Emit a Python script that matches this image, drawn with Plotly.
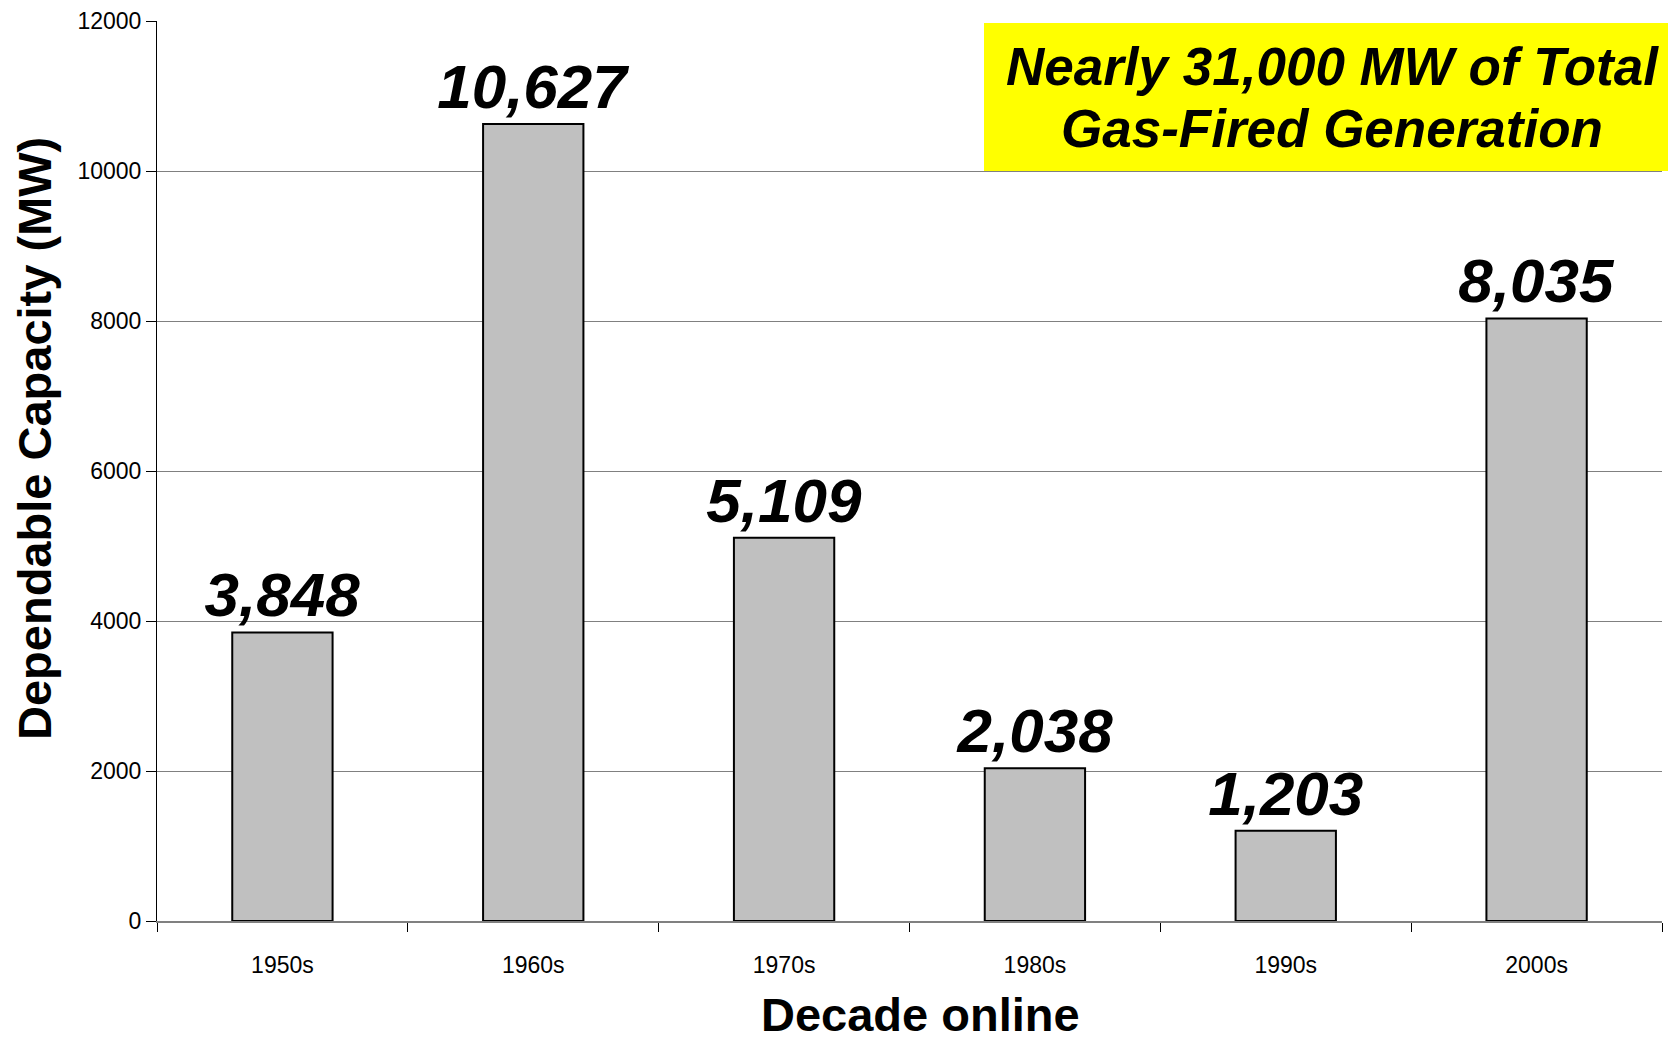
import plotly.graph_objects as go

decades = ["1950s", "1960s", "1970s", "1980s", "1990s", "2000s"]
capacity_mw = [3848, 10627, 5109, 2038, 1203, 8035]
bar_labels = ["3,848", "10,627", "5,109", "2,038", "1,203", "8,035"]
y_ticks = [0, 2000, 4000, 6000, 8000, 10000, 12000]

FONT = "Liberation Sans, Arial, sans-serif"

fig = go.Figure()
fig.add_trace(go.Bar(
    x=decades,
    y=capacity_mw,
    text=bar_labels,
    textposition="outside",
    constraintext="none",
    cliponaxis=False,
    textfont=dict(family=FONT, size=62, color="black"),
    texttemplate="<b><i>%{text}</i></b>",
    marker=dict(color="#C0C0C0", line=dict(color="black", width=2)),
    width=0.4,
))

W, H = 1668, 1043
L, R, T, B = 157, 6, 21, 122
pw = W - L - R
ph = H - T - B

def px_x(x):
    return (x - L) / pw

def px_y(y):
    return (H - B - y) / ph

fig.update_layout(
    width=W, height=H,
    margin=dict(l=L, r=R, t=T, b=B),
    paper_bgcolor="white", plot_bgcolor="white",
    showlegend=False,
    font=dict(family=FONT, color="black"),
    xaxis=dict(
        type="category",
        tickson="boundaries",
        ticks="outside", ticklen=9, tickcolor="black", tickwidth=1,
        ticklabelstandoff=22,
        showline=True, linecolor="#808080", linewidth=2,
        tickfont=dict(family=FONT, size=23, color="black"),
        showgrid=False,
        zeroline=False,
    ),
    yaxis=dict(
        range=[0, 12000],
        tickvals=y_ticks,
        ticktext=[str(v) for v in y_ticks],
        ticks="outside", ticklen=10, tickcolor="black", tickwidth=1,
        showline=True, linecolor="black", linewidth=1,
        showgrid=True, gridcolor="#808080", gridwidth=1,
        zeroline=False,
        tickfont=dict(family=FONT, size=23, color="black"),
    ),
)

# yellow callout box
fig.add_shape(
    type="rect", xref="paper", yref="paper",
    x0=px_x(984), x1=px_x(1668), y0=px_y(171), y1=px_y(23),
    fillcolor="#FFFF00", line=dict(width=0), layer="above",
)
fig.add_annotation(
    xref="paper", yref="paper", x=px_x(1332), y=px_y(66),
    text="<b><i>Nearly 31,000 MW of Total</i></b>", showarrow=False,
    font=dict(family=FONT, size=53, color="black"),
    xanchor="center", yanchor="middle",
)
fig.add_annotation(
    xref="paper", yref="paper", x=px_x(1332), y=px_y(128),
    text="<b><i>Gas-Fired Generation</i></b>", showarrow=False,
    font=dict(family=FONT, size=53, color="black"),
    xanchor="center", yanchor="middle",
)

# axis titles
fig.add_annotation(
    xref="paper", yref="paper", x=px_x(920), y=px_y(1014),
    text="<b>Decade online</b>", showarrow=False,
    font=dict(family=FONT, size=47, color="black"),
    xanchor="center", yanchor="middle",
)
fig.add_annotation(
    xref="paper", yref="paper", x=px_x(34), y=px_y(439),
    text="<b>Dependable Capacity (MW)</b>", showarrow=False, textangle=-90,
    font=dict(family=FONT, size=47, color="black"),
    xanchor="center", yanchor="middle",
)

fig.write_html(
    "out.html",
    config={"displayModeBar": False},
    post_script="document.body.style.margin='0';document.body.style.overflow='hidden';",
)
